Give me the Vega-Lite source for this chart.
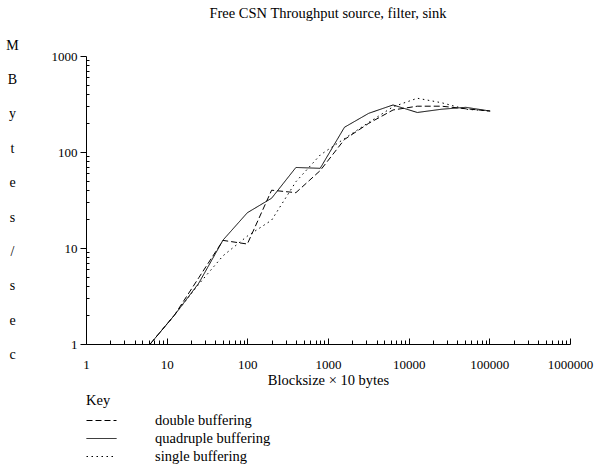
{
  "$schema": "https://vega.github.io/schema/vega-lite/v6.json",
  "autosize": "none",
  "width": 484,
  "height": 288,
  "padding": {"left": 86, "top": 56, "right": 26, "bottom": 127},
  "background": "white",
  "config": {
    "view": {"stroke": null},
    "font": "Liberation Serif",
    "axis": {"grid": false, "domainColor": "black", "tickColor": "black", "labelColor": "black", "titleColor": "black", "labelFont": "Liberation Serif", "titleFont": "Liberation Serif", "labelFontSize": 13, "titleFontSize": 14.5, "titleFontWeight": "normal"},
    "legend": {"labelFont": "Liberation Serif", "titleFont": "Liberation Serif"}
  },
  "title": {"text": "Free CSN Throughput source, filter, sink", "font": "Liberation Serif", "fontSize": 14.5, "fontWeight": "normal", "color": "black", "frame": "group", "baseline": "middle", "offset": 10},
  "data": {"values": [
    {"x": 6.25, "y": 1, "s": "double buffering"},
    {"x": 12.5, "y": 2.0, "s": "double buffering"},
    {"x": 25, "y": 4.9, "s": "double buffering"},
    {"x": 50, "y": 12, "s": "double buffering"},
    {"x": 100, "y": 11.0, "s": "double buffering"},
    {"x": 200, "y": 40, "s": "double buffering"},
    {"x": 400, "y": 37.7, "s": "double buffering"},
    {"x": 800, "y": 64, "s": "double buffering"},
    {"x": 1600, "y": 135, "s": "double buffering"},
    {"x": 3200, "y": 199, "s": "double buffering"},
    {"x": 6400, "y": 274, "s": "double buffering"},
    {"x": 12800, "y": 300, "s": "double buffering"},
    {"x": 25600, "y": 300, "s": "double buffering"},
    {"x": 51200, "y": 282, "s": "double buffering"},
    {"x": 102400, "y": 267, "s": "double buffering"},
    {"x": 6.25, "y": 1, "s": "quadruple buffering"},
    {"x": 12.5, "y": 2.0, "s": "quadruple buffering"},
    {"x": 25, "y": 4.3, "s": "quadruple buffering"},
    {"x": 50, "y": 12.1, "s": "quadruple buffering"},
    {"x": 100, "y": 23.3, "s": "quadruple buffering"},
    {"x": 200, "y": 33, "s": "quadruple buffering"},
    {"x": 400, "y": 69, "s": "quadruple buffering"},
    {"x": 800, "y": 67.6, "s": "quadruple buffering"},
    {"x": 1600, "y": 181, "s": "quadruple buffering"},
    {"x": 3200, "y": 253, "s": "quadruple buffering"},
    {"x": 6400, "y": 309, "s": "quadruple buffering"},
    {"x": 12800, "y": 258, "s": "quadruple buffering"},
    {"x": 25600, "y": 279, "s": "quadruple buffering"},
    {"x": 51200, "y": 292, "s": "quadruple buffering"},
    {"x": 102400, "y": 267, "s": "quadruple buffering"},
    {"x": 6.25, "y": 1, "s": "single buffering"},
    {"x": 12.5, "y": 2.0, "s": "single buffering"},
    {"x": 25, "y": 4.2, "s": "single buffering"},
    {"x": 50, "y": 8.3, "s": "single buffering"},
    {"x": 100, "y": 13.3, "s": "single buffering"},
    {"x": 200, "y": 19.5, "s": "single buffering"},
    {"x": 400, "y": 49, "s": "single buffering"},
    {"x": 800, "y": 93, "s": "single buffering"},
    {"x": 1600, "y": 138, "s": "single buffering"},
    {"x": 3200, "y": 203, "s": "single buffering"},
    {"x": 6400, "y": 296, "s": "single buffering"},
    {"x": 12800, "y": 363, "s": "single buffering"},
    {"x": 25600, "y": 326, "s": "single buffering"},
    {"x": 51200, "y": 279, "s": "single buffering"},
    {"x": 102400, "y": 267, "s": "single buffering"}
  ]},
  "mark": {"type": "line", "color": "black", "strokeWidth": 1},
  "encoding": {
    "x": {"field": "x", "type": "quantitative",
      "scale": {"type": "log", "domain": [1, 1000000], "nice": false},
      "axis": {
        "title": "Blocksize × 10 bytes",
        "values": [1,2,3,4,5,6,7,8,9,10,20,30,40,50,60,70,80,90,100,200,300,400,500,600,700,800,900,1000,2000,3000,4000,5000,6000,7000,8000,9000,10000,20000,30000,40000,50000,60000,70000,80000,90000,100000,200000,300000,400000,500000,600000,700000,800000,900000,1000000],
        "format": "d",
        "labelExpr": "abs(log(datum.value)/LN10 - round(log(datum.value)/LN10)) < 1e-6 ? datum.label : ''",
        "labelOverlap": false,
        "labelFlush": false,
        "tickSize": {"condition": {"test": "abs(log(datum.value)/LN10 - round(log(datum.value)/LN10)) < 1e-6", "value": -6}, "value": -4},
        "labelPadding": 20,
        "titleBaseline": "middle",
        "titleY": 36
      }
    },
    "y": {"field": "y", "type": "quantitative",
      "scale": {"type": "log", "domain": [1, 1000], "nice": false},
      "axis": {
        "title": ["M","B","y","t","e","s","/","s","e","c"],
        "titleFontSize": 14,
        "titleAngle": 0,
        "titleAlign": "center",
        "titleBaseline": "middle",
        "titleLineHeight": 34.4,
        "titleX": -74,
        "titleY": -11,
        "values": [1,2,3,4,5,6,7,8,9,10,20,30,40,50,60,70,80,90,100,200,300,400,500,600,700,800,900,1000],
        "format": "d",
        "labelExpr": "abs(log(datum.value)/LN10 - round(log(datum.value)/LN10)) < 1e-6 ? datum.label : ''",
        "labelOverlap": false,
        "labelFlush": false,
        "tickSize": {"condition": {"test": "abs(log(datum.value)/LN10 - round(log(datum.value)/LN10)) < 1e-6", "value": 6}, "value": -3},
        "labelPadding": 3
      }
    },
    "strokeDash": {"field": "s", "type": "nominal",
      "scale": {"domain": ["double buffering", "quadruple buffering", "single buffering"], "range": [[6, 3], [1, 0], [1.5, 3.5]]},
      "legend": {
        "title": "Key",
        "orient": "none",
        "legendX": 0,
        "legendY": 338,
        "direction": "vertical",
        "titleFontSize": 14.5,
        "titleFontWeight": "normal",
        "titleColor": "black",
        "titlePadding": 5,
        "labelFontSize": 14.5,
        "labelColor": "black",
        "symbolType": "stroke",
        "symbolSize": 900,
        "symbolStrokeWidth": 1,
        "symbolStrokeColor": "black",
        "labelOffset": 38,
        "clipHeight": 14,
        "rowPadding": 3
      }
    }
  }
}
